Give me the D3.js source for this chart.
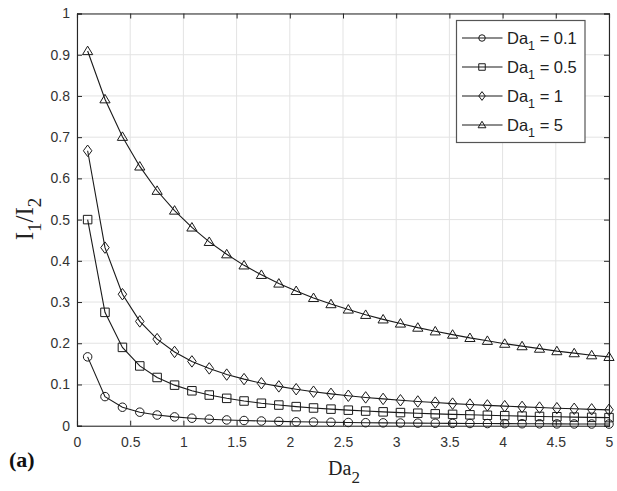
<!DOCTYPE html>
<html>
<head>
<meta charset="utf-8">
<script src="https://cdn.jsdelivr.net/npm/d3@7"></script>
<style>
html,body{margin:0;padding:0;background:#fff;}
svg{display:block;}
</style>
</head>
<body>
<svg id="chart" width="617" height="491"></svg>
<script>
// ---- data ----
const da2 = [0.1, 0.263, 0.427, 0.59, 0.753, 0.917, 1.08, 1.243, 1.407, 1.57, 1.733, 1.897, 2.06, 2.223, 2.387, 2.55, 2.713, 2.877, 3.04, 3.203, 3.367, 3.53, 3.693, 3.857, 4.02, 4.183, 4.347, 4.51, 4.673, 4.837, 5.0];
const seriesDa01 = [0.167, 0.0706, 0.0448, 0.0328, 0.0259, 0.0214, 0.0182, 0.0158, 0.0140, 0.0126, 0.0114, 0.0104, 0.0096, 0.0089, 0.0083, 0.0078, 0.0073, 0.0069, 0.0065, 0.0062, 0.0059, 0.0056, 0.0054, 0.0052, 0.0050, 0.0048, 0.0046, 0.0044, 0.0043, 0.0041, 0.0040];
const seriesDa05 = [0.5, 0.275, 0.190, 0.145, 0.117, 0.0984, 0.0847, 0.0744, 0.0664, 0.0599, 0.0545, 0.0501, 0.0463, 0.0430, 0.0402, 0.0377, 0.0355, 0.0336, 0.0318, 0.0303, 0.0288, 0.0275, 0.0264, 0.0253, 0.0243, 0.0233, 0.0225, 0.0217, 0.0209, 0.0203, 0.0196];
const seriesDa1 = [0.667, 0.432, 0.319, 0.253, 0.210, 0.179, 0.156, 0.139, 0.124, 0.113, 0.103, 0.0954, 0.0885, 0.0825, 0.0773, 0.0727, 0.0686, 0.0650, 0.0617, 0.0588, 0.0561, 0.0536, 0.0514, 0.0493, 0.0474, 0.0456, 0.0440, 0.0425, 0.0410, 0.0397, 0.0385];
const seriesDa5 = [0.909, 0.792, 0.701, 0.629, 0.570, 0.522, 0.481, 0.446, 0.416, 0.389, 0.366, 0.345, 0.327, 0.310, 0.295, 0.282, 0.269, 0.258, 0.248, 0.238, 0.229, 0.221, 0.213, 0.206, 0.199, 0.193, 0.187, 0.181, 0.176, 0.171, 0.167];
const seriesLabels = ["0.1", "0.5", "1", "5"];
const seriesMarkers = ["circle", "square", "diamond", "triangle"];
const xTicks = [0, 0.5, 1, 1.5, 2, 2.5, 3, 3.5, 4, 4.5, 5];
const yTicks = [0, 0.1, 0.2, 0.3, 0.4, 0.5, 0.6, 0.7, 0.8, 0.9, 1];

const allSeries = [seriesDa01, seriesDa05, seriesDa1, seriesDa5];

// ---- layout ----
const svg = d3.select("#chart");
const L = 77, R = 609, T = 13.5, B = 425.7;
const x = d3.scaleLinear().domain([0, 5]).range([L, R]);
const y = d3.scaleLinear().domain([0, 1]).range([B, T]);
const axisColor = "#262626";
const tickFont = "'Liberation Sans', Arial, sans-serif";

// grid
const grid = svg.append("g");
grid.selectAll("line.gx").data(xTicks).enter().append("line")
  .attr("x1", d => x(d)).attr("x2", d => x(d)).attr("y1", T).attr("y2", B)
  .attr("stroke", "#e3e3e3").attr("stroke-width", 1);
grid.selectAll("line.gy").data(yTicks).enter().append("line")
  .attr("y1", d => y(d)).attr("y2", d => y(d)).attr("x1", L).attr("x2", R)
  .attr("stroke", "#e3e3e3").attr("stroke-width", 1);

// axes
const fmt = d => d3.format("")(d);
const xAxis = d3.axisBottom(x).tickValues(xTicks).tickSize(-5).tickPadding(11).tickFormat(fmt);
const yAxis = d3.axisLeft(y).tickValues(yTicks).tickSize(-5).tickPadding(7).tickFormat(fmt);
const xTop = d3.axisTop(x).tickValues(xTicks).tickSize(-5).tickFormat("");
const yRight = d3.axisRight(y).tickValues(yTicks).tickSize(-5).tickFormat("");

function style(g) {
  g.selectAll("path").attr("stroke", axisColor).attr("stroke-width", 1.1);
  g.selectAll("line").attr("stroke", axisColor).attr("stroke-width", 1);
  g.selectAll("text").attr("fill", "#333").style("font-family", tickFont).style("font-size", "14px");
}
svg.append("g").attr("transform", `translate(0,${B})`).call(xAxis).call(style);
svg.append("g").attr("transform", `translate(${L},0)`).call(yAxis).call(style);
svg.append("g").attr("transform", `translate(0,${T})`).call(xTop).call(style);
svg.append("g").attr("transform", `translate(${R},0)`).call(yRight).call(style);

// markers
function markerPath(type, s) {
  const h = s / 2;
  if (type === "square") return `M${-h},${-h}H${h}V${h}H${-h}Z`;
  if (type === "diamond") return `M0,${-h * 1.35}L${h},0L0,${h * 1.35}L${-h},0Z`;
  if (type === "triangle") return `M0,${-h * 1.15}L${h * 1.2},${h * 0.85}L${-h * 1.2},${h * 0.85}Z`;
  return null;
}
function drawMarker(g, type, cx, cy, s) {
  if (type === "circle") {
    g.append("circle").attr("cx", cx).attr("cy", cy).attr("r", s / 2)
      .attr("fill", "none").attr("stroke", "#1a1a1a").attr("stroke-width", 1);
  } else {
    g.append("path").attr("d", markerPath(type, s)).attr("transform", `translate(${cx},${cy})`)
      .attr("fill", "none").attr("stroke", "#1a1a1a").attr("stroke-width", 1);
  }
}

// series
const line = d3.line().x((d, i) => x(da2[i])).y(d => y(d));
const plot = svg.append("g");
allSeries.forEach((vals, si) => {
  plot.append("path").datum(vals).attr("d", line)
    .attr("fill", "none").attr("stroke", "#1a1a1a").attr("stroke-width", 1.1);
  const mg = plot.append("g");
  vals.forEach((v, i) => drawMarker(mg, seriesMarkers[si], x(da2[i]), y(v), 8.5));
});

// legend
const lg = svg.append("g");
lg.append("rect").attr("x", 456.5).attr("y", 20.5).attr("width", 128.5).attr("height", 122)
  .attr("fill", "#fff").attr("stroke", "#555").attr("stroke-width", 1.2);
const rowY = [38, 67, 96, 125];
seriesLabels.forEach((lab, i) => {
  const cy = rowY[i];
  lg.append("line").attr("x1", 462).attr("x2", 502.5).attr("y1", cy).attr("y2", cy)
    .attr("stroke", "#1a1a1a").attr("stroke-width", 1.1);
  drawMarker(lg, seriesMarkers[i], 482, cy, 6.5);
  const t = lg.append("text").attr("x", 507).attr("y", cy + 6)
    .style("font-family", tickFont).style("font-size", "16.5px").attr("fill", "#222");
  t.append("tspan").text("Da");
  t.append("tspan").attr("dy", 6).style("font-size", "12.5px").text("1");
  t.append("tspan").attr("dy", -6).text(" = " + lab);
});

// axis labels
const serif = "'Liberation Serif', 'Times New Roman', serif";
const xl = svg.append("text").attr("x", 344).attr("y", 475).attr("text-anchor", "middle")
  .style("font-family", serif).style("font-size", "20px").attr("fill", "#222");
xl.append("tspan").text("Da");
xl.append("tspan").attr("dy", 8).style("font-size", "17px").text("2");

const yl = svg.append("text").attr("transform", "translate(33,219) rotate(-90)").attr("text-anchor", "middle")
  .style("font-family", serif).style("font-size", "25px").attr("fill", "#222");
yl.append("tspan").text("I");
yl.append("tspan").attr("dy", 8).style("font-size", "19px").text("1");
yl.append("tspan").attr("dy", -8).text("/I");
yl.append("tspan").attr("dy", 8).style("font-size", "19px").text("2");

svg.append("text").attr("x", 9).attr("y", 467)
  .style("font-family", serif).style("font-size", "22px").style("font-weight", "bold").attr("fill", "#111")
  .text("(a)");
</script>
</body>
</html>
